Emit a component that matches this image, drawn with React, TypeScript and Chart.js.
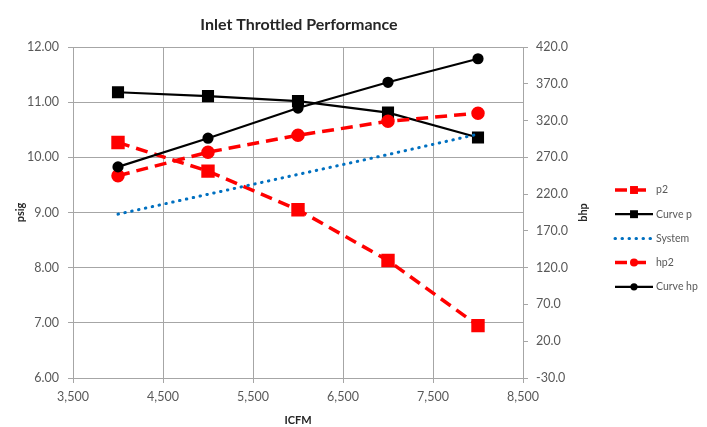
import React, { useEffect, useRef } from 'react';
import { Chart, registerables } from 'chart.js';

Chart.register(...registerables);

// ---- data ----
const icfm = [4000, 5000, 6000, 7000, 8000];
const p2 = [10.27, 9.75, 9.05, 8.13, 6.95];
const curveP = [11.18, 11.11, 11.02, 10.81, 10.36];
const system = [8.97, 9.33, 9.69, 10.05, 10.42];
const hp2 = [245, 277, 300, 319, 330];
const curveHp = [257, 296, 337, 372, 404];

const seriesLabels = ['p2', 'Curve p', 'System', 'hp2', 'Curve hp'];
const titleText = 'Inlet Throttled Performance';
const xTitle = 'ICFM';
const yTitle = 'psig';
const y1Title = 'bhp';

const FONT = 'Lato, "Open Sans", sans-serif';
const GRID = '#a6a6a6';
const TICK = '#595959';

const pts = (vals: number[]) => icfm.map((x, i) => ({ x, y: vals[i] }));

const overlay = {
  id: 'overlay',
  afterDraw(chart: any) {
    const ctx = chart.ctx as CanvasRenderingContext2D;
    const ca = chart.chartArea;
    const r = chart.scales.y1.right;
    // right axis title (rotated bottom-to-top like the source)
    ctx.save();
    ctx.font = `bold 11px ${FONT}`;
    ctx.fillStyle = '#262626';
    ctx.textAlign = 'center';
    ctx.textBaseline = 'middle';
    ctx.translate(r - 15, (ca.top + ca.bottom) / 2);
    ctx.rotate(-Math.PI / 2);
    ctx.fillText(y1Title, 0, 0);
    ctx.restore();

    // legend
    const lx = r + 17;
    const len = 38;
    const y0 = 190;
    const dy = 24.2;
    chart.data.datasets.forEach((ds: any, i: number) => {
      const y = y0 + i * dy;
      ctx.save();
      ctx.strokeStyle = ds.borderColor;
      ctx.lineWidth = ds.borderWidth;
      ctx.lineCap = ds.borderCapStyle || 'butt';
      ctx.setLineDash(ds.borderDash || []);
      ctx.beginPath();
      ctx.moveTo(lx, y);
      ctx.lineTo(lx + len, y);
      ctx.stroke();
      ctx.setLineDash([]);
      if (ds.pointRadius > 0) {
        ctx.fillStyle = ds.pointBackgroundColor;
        const cx = lx + len / 2;
        if (ds.pointStyle === 'rect') {
          const s = ds.pointRadius * Math.SQRT1_2 * 0.8;
          ctx.fillRect(cx - s, y - s, 2 * s, 2 * s);
        } else {
          ctx.beginPath();
          ctx.arc(cx, y, ds.pointRadius * 0.8, 0, Math.PI * 2);
          ctx.fill();
        }
      }
      ctx.font = `10.5px ${FONT}`;
      ctx.fillStyle = TICK;
      ctx.textAlign = 'left';
      ctx.textBaseline = 'middle';
      ctx.fillText(ds.label, lx + len + 3, y);
      ctx.restore();
    });
  },
};

export default function App() {
  const ref = useRef<HTMLCanvasElement | null>(null);

  useEffect(() => {
    document.body.style.margin = '0';
    const canvas = ref.current!;
    const chart = new Chart(canvas, {
      type: 'line',
      data: {
        datasets: [
          {
            label: seriesLabels[0],
            data: pts(p2),
            yAxisID: 'y',
            borderColor: '#ff0000',
            backgroundColor: '#ff0000',
            pointBackgroundColor: '#ff0000',
            pointBorderColor: '#ff0000',
            borderWidth: 3.5,
            borderDash: [12, 7],
            pointStyle: 'rect',
            pointRadius: 7,
            order: 5,
          },
          {
            label: seriesLabels[1],
            data: pts(curveP),
            yAxisID: 'y',
            borderColor: '#000000',
            backgroundColor: '#000000',
            pointBackgroundColor: '#000000',
            pointBorderColor: '#000000',
            borderWidth: 2.2,
            pointStyle: 'rect',
            pointRadius: 7,
            order: 4,
          },
          {
            label: seriesLabels[2],
            data: pts(system),
            yAxisID: 'y',
            borderColor: '#0070c0',
            backgroundColor: '#0070c0',
            pointBackgroundColor: '#0070c0',
            borderWidth: 3,
            borderDash: [0.5, 6.5],
            borderCapStyle: 'round',
            pointRadius: 0,
            order: 3,
          },
          {
            label: seriesLabels[3],
            data: pts(hp2),
            yAxisID: 'y1',
            borderColor: '#ff0000',
            backgroundColor: '#ff0000',
            pointBackgroundColor: '#ff0000',
            pointBorderColor: '#ff0000',
            borderWidth: 3.5,
            borderDash: [12, 7],
            pointStyle: 'circle',
            pointRadius: 5,
            order: 2,
          },
          {
            label: seriesLabels[4],
            data: pts(curveHp),
            yAxisID: 'y1',
            borderColor: '#000000',
            backgroundColor: '#000000',
            pointBackgroundColor: '#000000',
            pointBorderColor: '#000000',
            borderWidth: 2.2,
            pointStyle: 'circle',
            pointRadius: 4.5,
            order: 1,
          },
        ] as any,
      },
      options: {
        animation: false,
        responsive: false,
        layout: { padding: { left: 0, right: 109, top: 0, bottom: 0 } },
        plugins: {
          legend: { display: false },
          tooltip: { enabled: false },
          title: {
            display: true,
            text: titleText,
            color: '#262626',
            font: { family: FONT, size: 16, weight: 'bold', lineHeight: 1.2 },
            padding: { top: 15, bottom: 12.8 },
          },
        },
        scales: {
          x: {
            type: 'linear',
            min: 3500,
            max: 8500,
            ticks: {
              stepSize: 1000,
              color: TICK,
              font: { family: FONT, size: 12.5 },
              padding: 6,
              maxRotation: 0,
              callback: (v: any) => Number(v).toLocaleString('en-US'),
            },
            grid: { color: GRID, tickLength: 5, lineWidth: 1 },
            border: { color: GRID },
            title: {
              display: true,
              text: xTitle,
              color: '#262626',
              font: { family: FONT, size: 11, weight: 'bold', lineHeight: 1.2 },
              padding: { top: 0, bottom: 0.4 },
            },
            afterFit: (s: any) => {
              s.height = 49;
            },
          },
          y: {
            type: 'linear',
            position: 'left',
            min: 6,
            max: 12,
            ticks: {
              stepSize: 1,
              color: TICK,
              font: { family: FONT, size: 12.5 },
              padding: 9,
              callback: (v: any) => Number(v).toFixed(2),
            },
            grid: { color: GRID, tickLength: 5, lineWidth: 1 },
            border: { color: GRID },
            title: {
              display: true,
              text: yTitle,
              color: '#262626',
              font: { family: FONT, size: 11, weight: 'bold', lineHeight: 1.2 },
              padding: { top: 13.4, bottom: 0 },
            },
            afterFit: (s: any) => {
              s.width = 73;
            },
          },
          y1: {
            type: 'linear',
            position: 'right',
            min: -30,
            max: 420,
            ticks: {
              stepSize: 50,
              color: TICK,
              font: { family: FONT, size: 12.5 },
              padding: 8,
              callback: (v: any) => Number(v).toFixed(1),
            },
            grid: { drawOnChartArea: false, color: GRID, tickLength: 5 },
            border: { color: GRID },
            afterFit: (s: any) => {
              s.width = 75;
            },
          },
        },
      } as any,
      plugins: [overlay],
    });
    return () => chart.destroy();
  }, []);

  return (
    <div style={{ position: 'fixed', left: 0, top: 0, width: 707, height: 427, background: '#fff' }}>
      <canvas ref={ref} width={707} height={427} />
    </div>
  );
}
